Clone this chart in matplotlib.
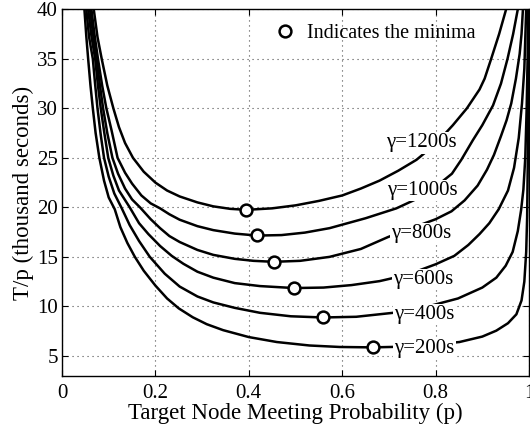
import matplotlib
matplotlib.use("Agg")
import matplotlib.pyplot as plt

plt.rcParams['font.family'] = ['Liberation Serif', 'DejaVu Serif']

# T/p curves (p, thousand seconds)
p_200 = [0.048, 0.052, 0.056, 0.061, 0.066, 0.072, 0.080, 0.090, 0.100, 0.113, 0.125, 0.140,
         0.156, 0.175, 0.20, 0.225, 0.25, 0.28, 0.31, 0.345, 0.40, 0.46, 0.53, 0.595, 0.666,
         0.72, 0.78, 0.851, 0.90, 0.93, 0.955, 0.973, 0.984, 0.990, 0.994, 0.996, 0.998, 0.999]
T_200 = [40, 37.3, 35, 32.3, 30, 27.5, 25, 22.7, 21.0, 19.8, 18.0, 16.4,
         15.0, 13.6, 12.1, 10.8, 9.8, 8.9, 8.2, 7.6, 6.9, 6.4, 6.05, 5.9, 5.86,
         5.92, 6.08, 6.4, 6.95, 7.55, 8.3, 9.2, 10.6, 12.5, 15.5, 19, 27, 40]

p_400 = [0.052, 0.058, 0.066, 0.071, 0.076, 0.083, 0.090, 0.100, 0.112, 0.128, 0.145, 0.165,
         0.188, 0.22, 0.252, 0.29, 0.324, 0.37, 0.424, 0.49, 0.559, 0.63, 0.709, 0.78, 0.848,
         0.90, 0.93, 0.95, 0.965, 0.976, 0.983, 0.988, 0.992, 0.995, 0.997, 0.998]
T_400 = [40, 37.2, 35, 32.4, 30, 27.3, 25, 23.1, 21.4, 19.9, 18.2, 16.6,
         15.0, 13.3, 12.0, 11.0, 10.4, 9.85, 9.35, 9.0, 8.88, 8.95, 9.35, 9.95, 10.8,
         11.9, 12.9, 14.1, 15.5, 17.6, 19.7, 21.8, 25, 30, 35, 40]

p_600 = [0.056, 0.063, 0.071, 0.077, 0.083, 0.091, 0.099, 0.110, 0.122, 0.145, 0.165, 0.185,
         0.21, 0.235, 0.26, 0.29, 0.324, 0.37, 0.424, 0.497, 0.56, 0.62, 0.68, 0.74, 0.80,
         0.84, 0.87, 0.894, 0.915, 0.935, 0.955, 0.968, 0.978, 0.985, 0.990, 0.994]
T_600 = [40, 37.3, 35, 32.3, 30, 27.4, 25, 23.2, 21.7, 20.0, 18.4, 17.3,
         16.1, 15.1, 14.3, 13.5, 12.9, 12.35, 12.05, 11.85, 11.9, 12.15, 12.55, 13.2, 14.25,
         15.1, 16.2, 17.3, 18.4, 19.8, 21.7, 24.0, 27, 30.5, 34, 40]

p_800 = [0.060, 0.067, 0.074, 0.081, 0.088, 0.097, 0.108, 0.12, 0.135, 0.150, 0.167, 0.19,
         0.21, 0.23, 0.252, 0.29, 0.324, 0.37, 0.41, 0.453, 0.51, 0.573, 0.64, 0.698, 0.76,
         0.80, 0.834, 0.862, 0.89, 0.91, 0.925, 0.94, 0.952, 0.962, 0.972, 0.98, 0.984, 0.987]
T_800 = [40, 37.3, 35, 32.4, 30, 27.5, 25, 23.4, 21.9, 20.8, 20.0, 18.8,
         17.9, 17.1, 16.5, 15.7, 15.2, 14.8, 14.6, 14.5, 14.6, 15.0, 15.8, 17.0, 18.1,
         18.8, 19.6, 20.7, 22.2, 23.8, 25.3, 27.2, 28.8, 30.5, 33, 35.5, 37.5, 40]

p_1000 = [0.063, 0.070, 0.077, 0.086, 0.095, 0.106, 0.119, 0.135, 0.15, 0.17, 0.19, 0.21,
          0.23, 0.252, 0.29, 0.324, 0.37, 0.418, 0.47, 0.52, 0.573, 0.65, 0.716, 0.78, 0.835,
          0.855, 0.88, 0.90, 0.923, 0.94, 0.954, 0.966, 0.976]
T_1000 = [40, 37.3, 35, 32.3, 30, 27.8, 25, 23.5, 22.4, 21.2, 20.4, 19.9,
          19.3, 18.75, 18.1, 17.7, 17.35, 17.15, 17.2, 17.45, 17.9, 18.9, 19.9, 21.3, 23.4,
          24.8, 26.8, 28.3, 30.3, 32.5, 35, 37.5, 40]

p_1200 = [0.068, 0.076, 0.085, 0.097, 0.11, 0.122, 0.135, 0.152, 0.175, 0.2, 0.225, 0.252,
          0.29, 0.324, 0.36, 0.395, 0.45, 0.50, 0.55, 0.60, 0.64, 0.68, 0.72, 0.759, 0.80,
          0.837, 0.867, 0.894, 0.905, 0.919, 0.936, 0.951]
T_1200 = [40, 37.2, 35, 32.3, 30, 28.1, 26.5, 25, 23.6, 22.5, 21.7, 21.1,
          20.5, 20.1, 19.85, 19.75, 19.9, 20.2, 20.65, 21.2, 21.9, 22.7, 23.7, 24.8, 26.4,
          28.3, 30, 31.9, 33.0, 35, 37.5, 40]

gammas = [200, 400, 600, 800, 1000, 1200]
curves_p = [p_200, p_400, p_600, p_800, p_1000, p_1200]
curves_T = [T_200, T_400, T_600, T_800, T_1000, T_1200]

# minima marked with circles
min_p = [0.665, 0.559, 0.497, 0.453, 0.418, 0.395]
min_T = [5.86, 8.9, 11.85, 14.5, 17.2, 19.75]

# where the gamma labels sit on each curve
label_p = [0.776, 0.775, 0.773, 0.770, 0.772, 0.769]
label_T = [5.77, 9.2, 12.75, 17.35, 21.7, 26.5]

fig = plt.figure(figsize=(5.3, 4.32), dpi=100)
ax = fig.add_axes([62 / 530, 1 - 375.7 / 432, (529 - 62) / 530, (375.7 - 9.3) / 432])

for p, T in zip(curves_p, curves_T):
    ax.plot(p, T, color='black', lw=1.8, zorder=3, solid_joinstyle='round')

ax.plot(min_p, min_T, 'o', ls='none', ms=8.5, mfc='white', mec='black', mew=1.8,
        zorder=4, label='Indicates the minima')

for g, x, y in zip(gammas, label_p, label_T):
    ax.text(x, y, f'γ={g}s', fontsize=15, ha='center', va='center', zorder=5,
            bbox=dict(facecolor='white', edgecolor='none', pad=0.8))

ax.set_xlim(0, 1)
ax.set_ylim(3, 40)
ax.set_xticks([0, 0.2, 0.4, 0.6, 0.8, 1])
ax.set_xticklabels(['0', '0.2', '0.4', '0.6', '0.8', '1'])
ax.set_yticks(range(5, 45, 5))
ax.tick_params(direction='in', top=True, right=True, length=4, width=0.8, labelsize=15)
ax.tick_params(axis='x', pad=6)
ax.tick_params(axis='y', pad=3)
ax.grid(True, color='0.3', ls=(0, (1, 3.5)), lw=0.8)
for s in ax.spines.values():
    s.set_linewidth(1.0)

ax.set_xlabel('Target Node Meeting Probability (p)', fontsize=16.5, labelpad=0)
ax.set_ylabel('T/p (thousand seconds)', fontsize=16.5, labelpad=2)

ax.legend(loc='center left', bbox_to_anchor=(0.455, 0.935), frameon=False, fontsize=14.5,
          handlelength=1.0, handletextpad=0.6, borderpad=0, borderaxespad=0)

fig.savefig('out.png', dpi=100)
